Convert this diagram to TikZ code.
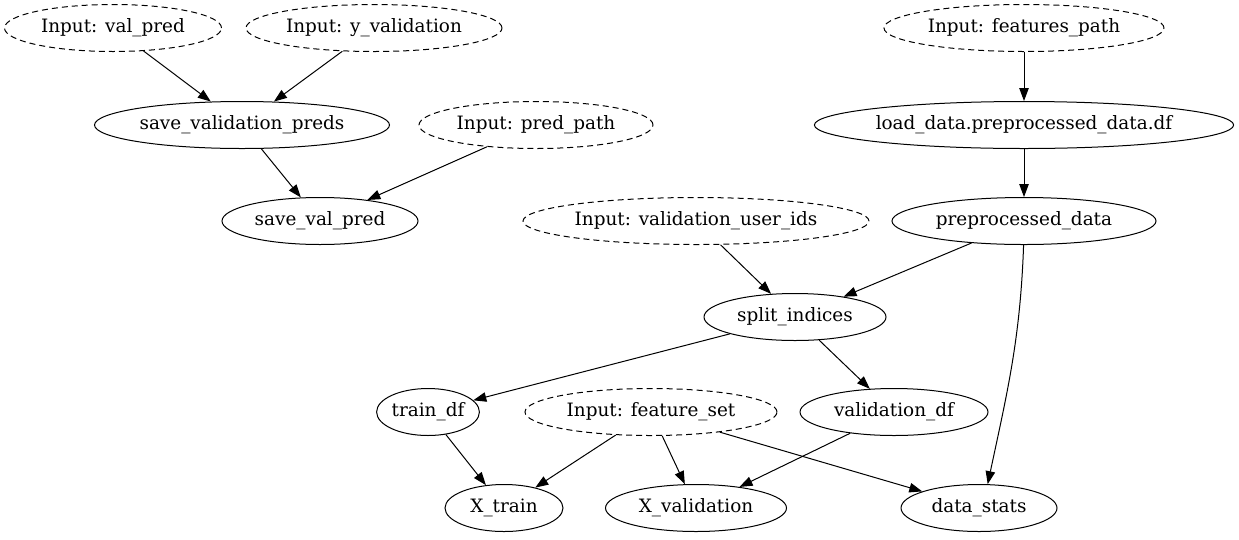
\documentclass[tikz,border=0pt]{standalone}
\usepackage{fontspec}
\setmainfont{DejaVu Serif}
\usetikzlibrary{shapes.geometric,arrows.meta}
\begin{document}
\begin{tikzpicture}[x=1pt,y=-1pt,
  nd/.style={ellipse,draw,inner sep=0pt,minimum height=47pt,font=\fontsize{18.4}{20}\selectfont,line width=1pt},
  inp/.style={nd,dash pattern=on 6pt off 4pt},
  arr/.style={-{Triangle[length=13pt,width=9.5pt]},line width=1pt}]
\useasboundingbox (0,0) rectangle (1239,539);
\node[inp,minimum width=217pt] (vp) at (113,28) {Input: val\_pred};
\node[inp,minimum width=256pt] (yv) at (374,28) {Input: y\_validation};
\node[inp,minimum width=280pt] (fp) at (1024,28) {Input: features\_path};
\node[nd,minimum width=295pt] (svp) at (242,125) {save\_validation\_preds};
\node[inp,minimum width=234pt] (pp) at (536,125) {Input: pred\_path};
\node[nd,minimum width=418pt] (ld) at (1024,125) {load\_data.preprocessed\_data.df};
\node[nd,minimum width=196pt] (sv) at (320,221) {save\_val\_pred};
\node[inp,minimum width=346pt] (vu) at (696,221) {Input: validation\_user\_ids};
\node[nd,minimum width=264pt] (pd) at (1024,221) {preprocessed\_data};
\node[nd,minimum width=182pt] (si) at (795,317) {split\_indices};
\node[nd,minimum width=99pt] (tr) at (428,412) {train\_df};
\node[inp,minimum width=252pt] (fs) at (651,412) {Input: feature\_set};
\node[nd,minimum width=188pt] (vd) at (894,412) {validation\_df};
\node[nd,minimum width=118pt] (xt) at (504,508) {X\_train};
\node[nd,minimum width=181pt] (xv) at (696,508) {X\_validation};
\node[nd,minimum width=156pt] (ds) at (979,508) {data\_stats};
\draw[arr] (vp) -- (svp);
\draw[arr] (yv) -- (svp);
\draw[arr] (svp) -- (sv);
\draw[arr] (pp) -- (sv);
\draw[arr] (fp) -- (ld);
\draw[arr] (ld) -- (pd);
\draw[arr] (vu) -- (si);
\draw[arr] (pd) -- (si);
\draw[arr] (pd.-91) to[out=-92,in=78] (ds.70);
\draw[arr] (si) -- (tr);
\draw[arr] (si) -- (vd);
\draw[arr] (tr) -- (xt);
\draw[arr] (fs) -- (xt);
\draw[arr] (fs) -- (xv);
\draw[arr] (fs) -- (ds);
\draw[arr] (vd) -- (xv);
\end{tikzpicture}
\end{document}
